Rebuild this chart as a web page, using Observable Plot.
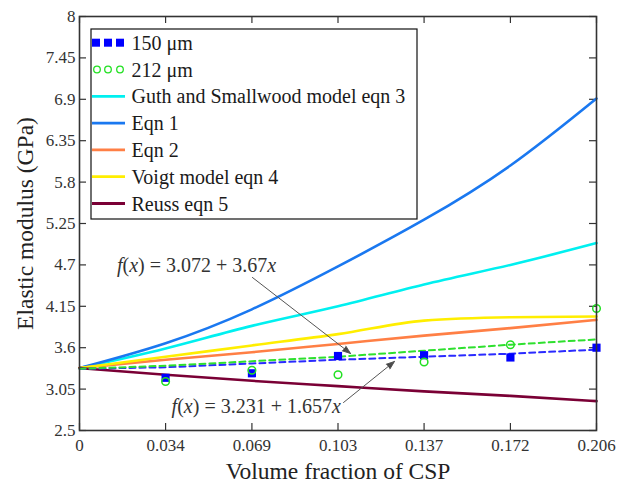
<!DOCTYPE html>
<html><head><meta charset="utf-8">
<script src="https://cdn.jsdelivr.net/npm/d3@7"></script>
<script src="https://cdn.jsdelivr.net/npm/@observablehq/plot@0.6"></script>
<style>
body{margin:0;background:#fff;}
</style></head><body><div id="chart"></div>
<script>
// ---------- data ----------
const xs = [0, 0.0343, 0.0687, 0.103, 0.1373, 0.1717, 0.206];
const xTickLabels = ["0", "0.034", "0.069", "0.103", "0.137", "0.172", "0.206"];
const yTicks = [2.5, 3.05, 3.6, 4.15, 4.7, 5.25, 5.8, 6.35, 6.9, 7.45, 8];
const yTickLabels = ["2.5", "3.05", "3.6", "4.15", "4.7", "5.25", "5.8", "6.35", "6.9", "7.45", "8"];

const guth  = [3.33, 3.59, 3.89, 4.15, 4.44, 4.70, 4.99];
const eqn1  = [3.33, 3.66, 4.11, 4.68, 5.30, 6.02, 6.91];
const eqn2  = [3.33, 3.44, 3.54, 3.65, 3.76, 3.86, 3.97];
const voigt = [3.33, 3.48, 3.63, 3.78, 3.96, 4.005, 4.015];
const reuss = [3.33, 3.24, 3.16, 3.09, 3.02, 2.96, 2.89];
const fit150 = [3.32, 3.34, 3.39, 3.44, 3.48, 3.52, 3.575];
const fit212 = [3.32, 3.36, 3.42, 3.48, 3.56, 3.64, 3.71];

const px = [0.0343, 0.0687, 0.103, 0.1373, 0.1717, 0.206];
const p150 = [3.20, 3.26, 3.49, 3.50, 3.47, 3.60];
const p212 = [3.15, 3.30, 3.24, 3.41, 3.64, 4.12];

const legendNames = ["150 μm", "212 μm", "Guth and Smallwood model eqn 3", "Eqn 1", "Eqn 2", "Voigt model eqn 4", "Reuss eqn 5"];

// annotations (data coordinates)
const annText = [
  {parts: [["f", true], ["(", false], ["x", true], [") = 3.072 + 3.67", false], ["x", true]], x: 0.0151, y: 4.603},
  {parts: [["f", true], ["(", false], ["x", true], [") = 3.231 + 1.657", false], ["x", true]], x: 0.0369, y: 2.722}
];
const annArrows = [
  {x1: 0.0689, y1: 4.533, x2: 0.108, y2: 3.523},
  {x1: 0.1052, y1: 2.872, x2: 0.1255, y2: 3.417}
];

// ---------- build tables ----------
const models = [
  {name: legendNames[2], vals: guth,  color: "#00f0f0", curve: "natural"},
  {name: legendNames[3], vals: eqn1,  color: "#1a78f0", curve: "natural"},
  {name: legendNames[4], vals: eqn2,  color: "#ff7f45", curve: "monotone-x"},
  {name: legendNames[5], vals: voigt, color: "#ffee00", curve: "monotone-x"},
  {name: legendNames[6], vals: reuss, color: "#7a0035", curve: "monotone-x"}
];
const fitRows = [
  ...xs.map((x, i) => ({s: "150", x, y: fit150[i]})),
  ...xs.map((x, i) => ({s: "212", x, y: fit212[i]}))
];
const pts150 = px.map((x, i) => ({x, y: p150[i]}));
const pts212 = px.map((x, i) => ({x, y: p212[i]}));

const serif = "'Liberation Serif', 'Times New Roman', Times, serif";

function legendMark() {
  const g = d3.create("svg:g");
  const L = 91, T = 29, W = 326, H = 190;
  g.append("rect").attr("x", L).attr("y", T).attr("width", W).attr("height", H)
    .attr("fill", "white").attr("stroke", "#111").attr("stroke-width", 1.2);
  const rowY = i => 42.7 + i * 26.8;
  [96, 108, 120].forEach(cx => g.append("rect").attr("x", cx - 4).attr("y", rowY(0) - 4)
    .attr("width", 8).attr("height", 8).attr("fill", "#0000ff"));
  [97, 108, 120].forEach(cx => g.append("circle").attr("cx", cx).attr("cy", rowY(1))
    .attr("r", 3.3).attr("fill", "none").attr("stroke", "#22e022").attr("stroke-width", 1.3));
  models.forEach((m, j) => {
    g.append("line").attr("x1", 92).attr("x2", 125).attr("y1", rowY(j + 2)).attr("y2", rowY(j + 2))
      .attr("stroke", m.color).attr("stroke-width", 2.8);
  });
  legendNames.forEach((n, i) => {
    g.append("text").attr("x", 131.5).attr("y", rowY(i)).attr("dy", "0.35em")
      .attr("text-anchor", "start")
      .attr("font-size", 20).attr("font-family", serif).attr("fill", "#1a1a1a").text(n);
  });
  return g.node();
}

function annotationMark(index, scales) {
  const g = d3.create("svg:g");
  const sx = scales.x, sy = scales.y;
  annText.forEach(a => {
    const t = g.append("text").attr("x", sx(a.x)).attr("y", sy(a.y))
      .attr("text-anchor", "start")
      .attr("font-size", 20).attr("font-family", serif).attr("fill", "#333");
    a.parts.forEach(([s, it]) => t.append("tspan").attr("font-style", it ? "italic" : "normal").text(s));
  });
  return g.node();
}

const plot = Plot.plot({
  width: 622, height: 490,
  marginLeft: 79, marginRight: 26, marginTop: 16, marginBottom: 60,
  style: {fontFamily: serif, fontSize: "17px", color: "#333", background: "#fff", overflow: "visible"},
  x: {domain: [0, 0.206]},
  y: {domain: [2.5, 8]},
  marks: [
    Plot.axisX({ticks: xs, tickFormat: d => xTickLabels[xs.indexOf(d)], tickSize: 0, tickPadding: 8, label: null, fontSize: 17}),
    Plot.axisY({ticks: yTicks, tickFormat: d => yTickLabels[yTicks.indexOf(d)], tickSize: 0, tickPadding: 4, label: null, fontSize: 17}),
    Plot.tickX(xs, {x: d => d, insetTop: 407, stroke: "#333", strokeWidth: 1.2}),
    Plot.tickX(xs, {x: d => d, insetBottom: 407, stroke: "#333", strokeWidth: 1.2}),
    Plot.tickY(yTicks, {y: d => d, insetRight: 510, stroke: "#333", strokeWidth: 1.2}),
    Plot.tickY(yTicks, {y: d => d, insetLeft: 510, stroke: "#333", strokeWidth: 1.2}),
    ...models.map(m => Plot.line(xs.map((x, i) => ({x, y: m.vals[i]})),
      {x: "x", y: "y", stroke: m.color, strokeWidth: 2.6, curve: m.curve})),
    Plot.line(fitRows, {x: "x", y: "y", z: "s", stroke: d => d.s === "150" ? "#2a2aff" : "#2ee02e",
      strokeWidth: 2, strokeDasharray: "6,4"}),
    Plot.dot(pts150, {x: "x", y: "y", symbol: "square", r: 4.6, fill: "#0000ff"}),
    Plot.dot(pts212, {x: "x", y: "y", symbol: "circle", r: 3.8, stroke: "#22e022", strokeWidth: 1.5, fill: "none"}),
    Plot.arrow(annArrows, {x1: "x1", y1: "y1", x2: "x2", y2: "y2", stroke: "#555", strokeWidth: 1,
      headLength: 13, headAngle: 40}),
    annotationMark,
    legendMark,
    Plot.frame({stroke: "#333", strokeWidth: 1.6}),
    Plot.text(["Volume fraction of CSP"], {frameAnchor: "bottom", dy: 48, fontSize: 23.5, fill: "#222", textAnchor: "middle"}),
    Plot.text(["Elastic modulus (GPa)"], {frameAnchor: "left", dx: -54, rotate: -90, fontSize: 23.5, fill: "#222", textAnchor: "middle"})
  ]
});
d3.select(plot).selectAll('g[aria-label="arrow"] path').attr("fill", "#444");
document.getElementById("chart").appendChild(plot);
</script>
</body></html>
